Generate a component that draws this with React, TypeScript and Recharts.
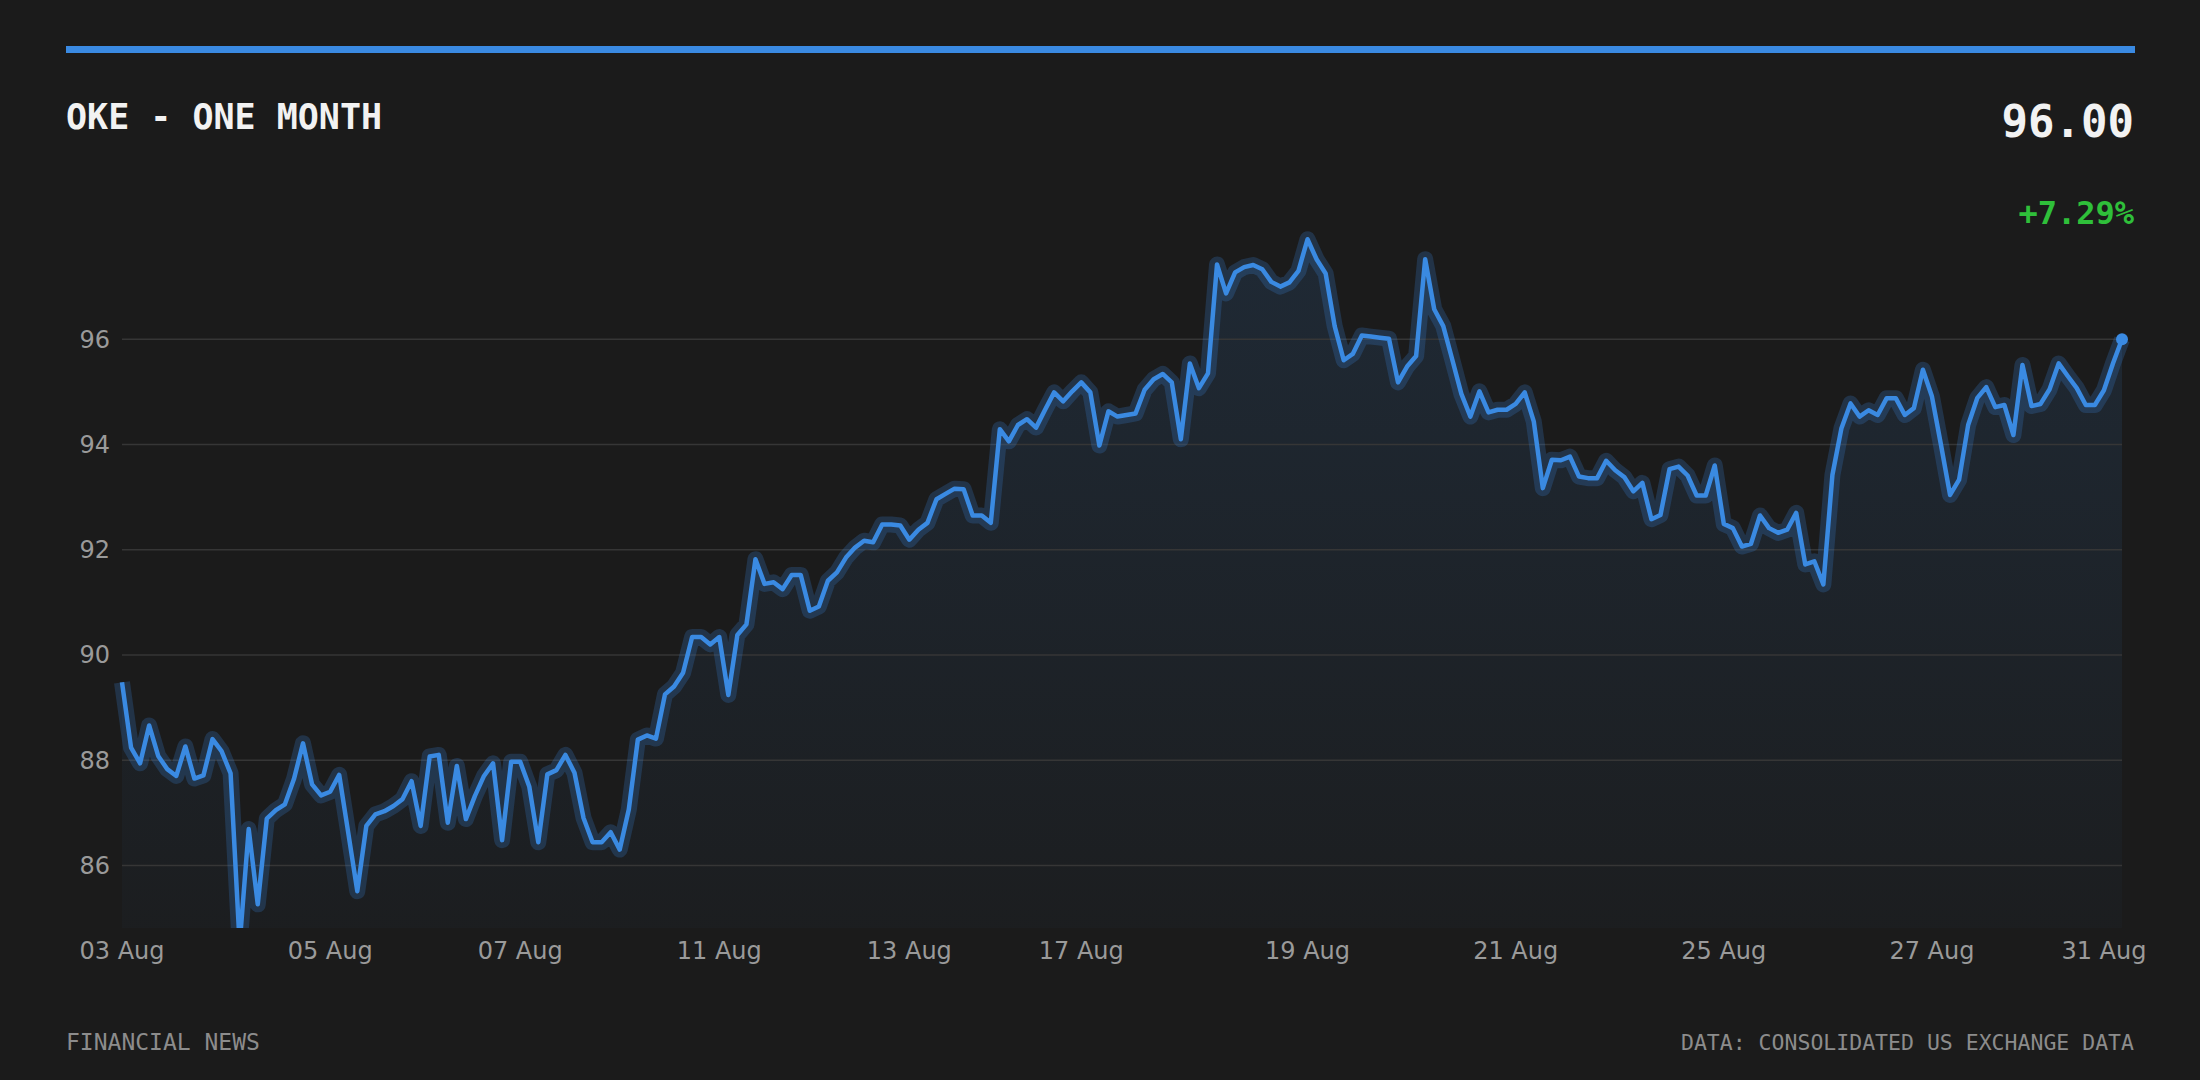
import { ComposedChart, Area, Line, XAxis, YAxis, ReferenceLine } from "recharts";

const title = "OKE - ONE MONTH";
const lastPrice = "96.00";
const changePct = "+7.29%";
const sourceLeft = "FINANCIAL NEWS";
const sourceRight = "DATA: CONSOLIDATED US EXCHANGE DATA";

// intraday closes, 03 Aug -> 31 Aug
const prices = [
	89.48, 88.24, 87.94, 88.66, 88.08, 87.83, 87.7, 88.26, 87.65, 87.71,
	88.4, 88.17, 87.75, 84.5, 86.69, 85.26, 86.89, 87.05, 87.16, 87.64,
	88.32, 87.54, 87.33, 87.4, 87.72, 86.62, 85.51, 86.75, 86.97, 87.03,
	87.13, 87.26, 87.6, 86.75, 88.07, 88.1, 86.81, 87.89, 86.88, 87.32,
	87.7, 87.94, 86.48, 87.97, 87.97, 87.5, 86.44, 87.73, 87.81, 88.1,
	87.76, 86.9, 86.44, 86.44, 86.63, 86.3, 87.06, 88.39, 88.47, 88.41,
	89.25, 89.4, 89.66, 90.34, 90.34, 90.2, 90.34, 89.24, 90.38, 90.58,
	91.82, 91.35, 91.38, 91.25, 91.52, 91.52, 90.84, 90.92, 91.41, 91.57,
	91.85, 92.04, 92.17, 92.14, 92.48, 92.48, 92.46, 92.19, 92.38, 92.51,
	92.96, 93.06, 93.16, 93.15, 92.65, 92.65, 92.51, 94.29, 94.06, 94.37,
	94.48, 94.32, 94.66, 94.99, 94.82, 95.01, 95.18, 94.99, 93.98, 94.63,
	94.53, 94.56, 94.59, 95.04, 95.24, 95.34, 95.18, 94.1, 95.54, 95.07,
	95.35, 97.42, 96.87, 97.27, 97.37, 97.41, 97.33, 97.09, 97.0, 97.08,
	97.3, 97.9, 97.52, 97.25, 96.25, 95.6, 95.72, 96.07, 96.05, 96.03,
	96.01, 95.18, 95.48, 95.68, 97.52, 96.57, 96.25, 95.61, 94.96, 94.53,
	95.01, 94.61, 94.66, 94.66, 94.77, 94.99, 94.44, 93.17, 93.71, 93.7,
	93.77, 93.39, 93.36, 93.36, 93.69, 93.51, 93.38, 93.11, 93.27, 92.58,
	92.66, 93.53, 93.58, 93.41, 93.03, 93.03, 93.6, 92.49, 92.41, 92.06,
	92.11, 92.65, 92.41, 92.32, 92.38, 92.7, 91.72, 91.78, 91.34, 93.42,
	94.31, 94.78, 94.53, 94.65, 94.56, 94.88, 94.88, 94.56, 94.69, 95.42,
	94.91, 93.99, 93.04, 93.33, 94.37, 94.88, 95.09, 94.71, 94.75, 94.18,
	95.51, 94.73, 94.77, 95.05, 95.54, 95.3, 95.07, 94.75, 94.75, 95.03,
	95.54, 96.0,
];

const tickDays = ["03 Aug", "05 Aug", "07 Aug", "11 Aug", "13 Aug", "17 Aug", "19 Aug", "21 Aug", "25 Aug", "27 Aug", "31 Aug"];
const tickIndex = [0, 23, 44, 66, 87, 106, 131, 154, 177, 200, 219];
const priceTicks = [86, 88, 90, 92, 94, 96];

const BLUE = "#3a8ae2";
const BG = "#1b1b1b";
const MONO = "'DejaVu Sans Mono', monospace";
const SANS = "'DejaVu Sans', sans-serif";

const data = prices.map((price, i) => ({ i, price }));

const lastDot = (props: any) => {
	if (props.index !== prices.length - 1) return <g key={`d-${props.index}`} />;
	return <circle key="last" cx={props.cx} cy={props.cy} r={6} fill={BLUE} />;
};

export default function App() {
	return (
		<div style={{ position: "absolute", left: 0, top: 0, width: 2200, height: 1080, background: BG }}>
			<svg width={2200} height={1080} style={{ position: "absolute", left: 0, top: 0 }}>
				<rect x={66} y={46} width={2069} height={7} fill={BLUE} />
				<text x={66} y={129} fontFamily={MONO} fontSize={35} fontWeight="bold" fill="#f2f2f2">
					{title}
				</text>
				<text x={2134} y={137} textAnchor="end" fontFamily={MONO} fontSize={44} fontWeight="bold" fill="#f2f2f2">
					{lastPrice}
				</text>
				<text x={2134} y={224} textAnchor="end" fontFamily={MONO} fontSize={32} fontWeight="bold" fill="#2fbf3a">
					{changePct}
				</text>
				<text x={66} y={1050} fontFamily={MONO} fontSize={23} fill="#8c8c8c">
					{sourceLeft}
				</text>
				<text x={2134} y={1050} textAnchor="end" fontFamily={MONO} fontSize={21.5} fill="#8c8c8c">
					{sourceRight}
				</text>
			</svg>
			<div style={{ position: "absolute", left: 0, top: 0 }}>
				<ComposedChart width={2200} height={1080} data={data} margin={{ top: 224, right: 78, bottom: 112, left: 62 }}>
					<defs>
						<linearGradient id="fillGrad" x1="0" y1="224" x2="0" y2="928" gradientUnits="userSpaceOnUse">
							<stop offset="0%" stopColor={BLUE} stopOpacity={0.22} />
							<stop offset="100%" stopColor={BLUE} stopOpacity={0.04} />
						</linearGradient>
					</defs>
					<XAxis
						dataKey="i"
						type="number"
						domain={[0, prices.length - 1]}
						ticks={tickIndex}
						interval={0}
						tickFormatter={(v: number) => tickDays[tickIndex.indexOf(v)]}
						axisLine={false}
						tickLine={false}
						tickSize={0}
						tickMargin={14}
						height={40}
						tick={{ fill: "#9a9a9a", fontSize: 24, fontFamily: SANS }}
					/>
					<YAxis
						domain={[84.81, 98.19]}
						allowDataOverflow
						ticks={priceTicks}
						interval={0}
						axisLine={false}
						tickLine={false}
						tickSize={0}
						tickMargin={12}
						width={60}
						tick={{ fill: "#9a9a9a", fontSize: 24, fontFamily: SANS }}
					/>
					{priceTicks.map((t) => (
						<ReferenceLine key={`grid-${t}`} y={t} stroke="#363636" strokeWidth={1.5} />
					))}
					<Area dataKey="price" type="linear" stroke="none" fill="url(#fillGrad)" isAnimationActive={false} />
					<Line
						dataKey="price"
						type="linear"
						stroke={BLUE}
						strokeOpacity={0.22}
						strokeWidth={16}
						strokeLinejoin="round"
						dot={false}
						activeDot={false}
						isAnimationActive={false}
					/>
					<Line
						dataKey="price"
						type="linear"
						stroke={BLUE}
						strokeWidth={4.5}
						strokeLinejoin="round"
						dot={lastDot}
						activeDot={false}
						isAnimationActive={false}
					/>
				</ComposedChart>
			</div>
		</div>
	);
}
